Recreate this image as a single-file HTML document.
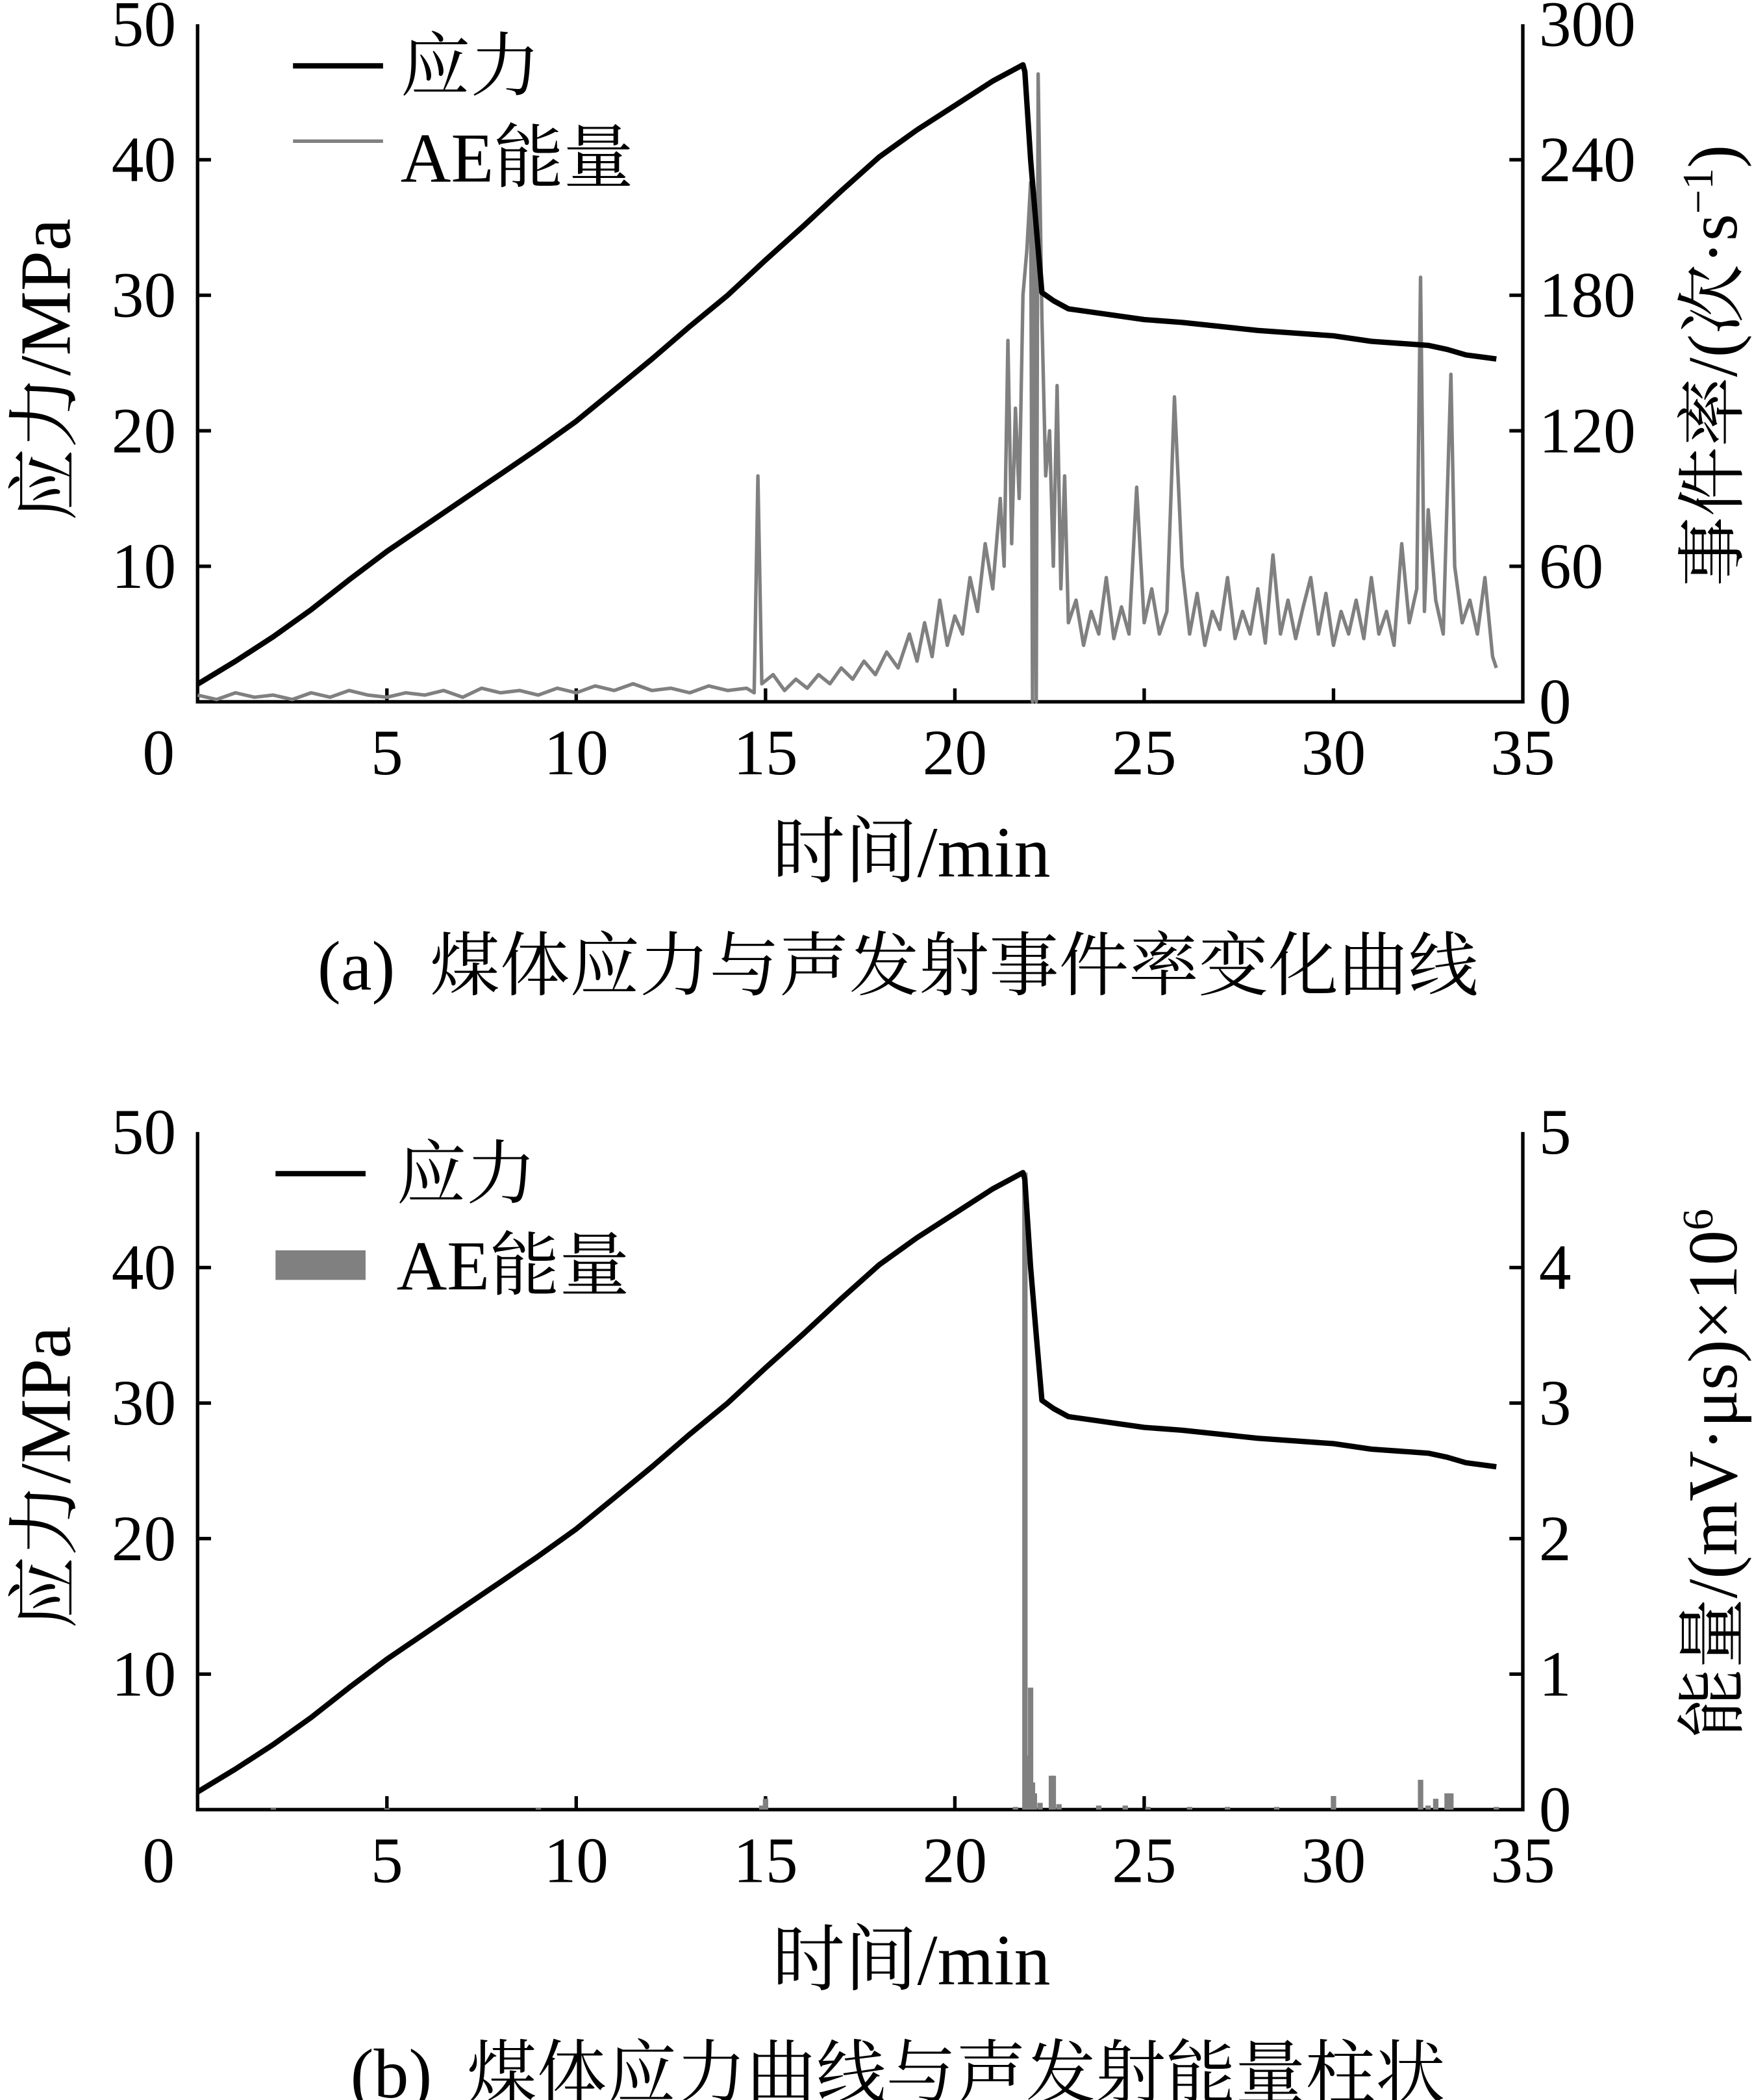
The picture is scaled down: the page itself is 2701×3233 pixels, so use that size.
<!DOCTYPE html>
<html><head><meta charset="utf-8"><style>
html,body{margin:0;padding:0;background:#fff;}
svg{display:block;}
text{font-family:"Liberation Serif","Noto Serif CJK SC",serif;fill:#000;}
</style></head><body>
<svg id="fig" width="2701" height="3233" viewBox="0 0 1305 1562" preserveAspectRatio="none" xmlns="http://www.w3.org/2000/svg"></svg>
<script>
// ---- data ----
const stressTimes = [0,1,2,3,4,5,6,7,8,9,10,11,12,13,14,15,16,17,18,19,20,21,21.8,21.85,22.0,22.15,22.3,22.6,23,24,25,26,27,28,29,30,31,32,32.5,33,33.5,34.3];
const stressValues = [1.3,3,4.8,6.8,9,11.1,13,14.9,16.8,18.7,20.7,23,25.3,27.7,30,32.6,35.1,37.7,40.2,42.2,44,45.8,47,46.5,40,35,30.2,29.6,29,28.6,28.2,28,27.7,27.4,27.2,27,26.6,26.4,26.3,26,25.6,25.3];
const rateTimes = [0,0.5,1,1.5,2,2.5,3,3.5,4,4.5,5,5.5,6,6.5,7,7.5,8,8.5,9,9.5,10,10.5,11,11.5,12,12.5,13,13.5,14,14.5,14.7,14.8,14.9,15.2,15.5,15.8,16.1,16.4,16.7,17,17.3,17.6,17.9,18.2,18.5,18.8,19.0,19.2,19.4,19.6,19.8,20,20.2,20.4,20.6,20.8,21,21.2,21.3,21.4,21.5,21.6,21.7,21.8,21.9,22.0,22.05,22.1,22.15,22.2,22.3,22.4,22.5,22.6,22.7,22.8,22.9,23,23.2,23.4,23.6,23.8,24,24.2,24.4,24.6,24.8,25,25.2,25.4,25.6,25.8,26,26.2,26.4,26.6,26.8,27,27.2,27.4,27.6,27.8,28,28.2,28.4,28.6,28.8,29,29.2,29.4,29.6,29.8,30,30.2,30.4,30.6,30.8,31,31.2,31.4,31.6,31.8,32,32.2,32.3,32.4,32.5,32.7,32.9,33.0,33.1,33.2,33.4,33.6,33.8,34,34.2,34.3];
const rateValues = [3,1,4,2,3,1,4,2,5,3,2,4,3,5,2,6,4,5,3,6,4,7,5,8,5,6,4,7,5,6,4,100,8,12,5,10,6,12,8,15,10,18,12,22,15,30,18,35,20,45,25,38,30,55,40,70,50,90,60,160,70,130,90,180,200,230,0,220,0,278,170,100,120,60,140,50,100,35,45,25,40,30,55,28,42,30,95,35,50,30,40,135,60,30,48,25,40,32,55,28,40,30,50,26,65,30,45,28,42,55,30,48,25,40,30,45,28,55,30,40,25,70,35,50,188,40,85,45,30,90,145,60,35,45,30,55,20,15];
const energyTimes = [2,5,9,14.9,15,21.6,21.85,21.95,22.0,22.05,22.1,22.25,22.55,22.6,22.75,23.8,24.5,25.1,26.2,27.2,28.5,30,32.3,32.5,32.7,33.0,33.1,34.3];
const energyValues = [0.01,0.01,0.01,0.03,0.08,0.02,4.7,0.4,0.9,0.2,0.12,0.05,0.25,0.25,0.04,0.03,0.03,0.02,0.02,0.02,0.02,0.1,0.22,0.03,0.08,0.12,0.12,0.02];
const xTicks = [0,5,10,15,20,25,30,35];
const stressTicks = [10,20,30,40,50];
const rateTicks = [0,60,120,180,240,300];
const energyTicks = [0,1,2,3,4,5];

const NS='http://www.w3.org/2000/svg';
const svg=document.getElementById('fig');
function el(tag,attrs,parent){const e=document.createElementNS(NS,tag);for(const k in attrs)e.setAttribute(k,attrs[k]);(parent||svg).appendChild(e);return e;}
const X0=147,X1=1133;
function sx(t){return X0+(X1-X0)*t/35;}

function panel(top,bot,id,rightMax,rightTicks,rightLabel,caption,legendGray){
  const g=el('g',{});
  
  
  const sy=v=>bot-(bot-top)*v/50;
  const ry=v=>bot-(bot-top)*v/rightMax;
  const frame=el('path',{d:`M${X0},${top} V${bot} H${X1} V${top}`,fill:'none',stroke:'#000','stroke-width':2.6},g);
  
  
  xTicks.forEach(t=>{
    if(t>0&&t<35){const tk=el('line',{x1:sx(t),x2:sx(t),y1:bot,y2:bot-10,stroke:'#000','stroke-width':2.6},g);
    
    }
    const lx=t===0?118:sx(t);
    const tx=el('text',{x:lx,y:bot+54,'font-size':48,'text-anchor':'middle'},g);tx.textContent=t;
    
    
  });
  stressTicks.forEach(v=>{
    if(v<50){const tk=el('line',{x1:X0,x2:X0+10,y1:sy(v),y2:sy(v),stroke:'#000','stroke-width':2.6},g);
    
    }
    const tx=el('text',{x:131,y:sy(v)+16,'font-size':48,'text-anchor':'end'},g);tx.textContent=v;
    
    
  });
  rightTicks.forEach(v=>{
    if(v>0&&v<rightMax){const tk=el('line',{x1:X1,x2:X1-10,y1:ry(v),y2:ry(v),stroke:'#000','stroke-width':2.6},g);
    
    }
    const tx=el('text',{x:1145,y:ry(v)+16,'font-size':48},g);tx.textContent=v;
    
    
  });
  if(!legendGray){
    const d=rateTimes.map((t,i)=>(i?'L':'M')+sx(t).toFixed(1)+','+ry(rateValues[i]).toFixed(1)).join(' ');
    const p=el('path',{d,fill:'none',stroke:'#808080','stroke-width':2.6,'stroke-linejoin':'round'},g);
    
    
  } else {
    energyTimes.forEach((t,i)=>{
      const b=el('rect',{x:sx(t)-2,y:ry(energyValues[i]),width:4,height:bot-ry(energyValues[i]),fill:'#808080'},g);
      
      
    });
  }
  const d2=stressTimes.map((t,i)=>(i?'L':'M')+sx(t).toFixed(1)+','+sy(stressValues[i]).toFixed(1)).join(' ');
  const sp=el('path',{d:d2,fill:'none',stroke:'#000','stroke-width':4,'stroke-linejoin':'round'},g);
  
  
  const lx=legendGray?205:218, lt=legendGray?295:298;
  const l1=el('line',{x1:lx,x2:lx+67,y1:top+31,y2:top+31,stroke:'#000','stroke-width':4},g);
  
  
  const t1=el('text',{x:lt,y:top+49,'font-size':52},g);t1.textContent='应力';
  
  
  let l2;
  if(legendGray){l2=el('rect',{x:lx,y:top+88,width:67,height:22,fill:'#808080'},g);}
  else{l2=el('line',{x1:lx,x2:lx+67,y1:top+87,y2:top+87,stroke:'#808080','stroke-width':2.6},g);}
  
  
  const t2=el('text',{x:lt,y:top+117,'font-size':52},g);t2.textContent='AE能量';
  
  
  const cy=(top+bot)/2+10;
  const yl=el('text',{x:0,y:0,'font-size':54,'text-anchor':'middle',transform:`translate(52,${cy-5}) rotate(-90)`},g);yl.textContent='应力/MPa';
  
  
  const rl=el('text',{x:0,y:0,'font-size':52,'text-anchor':'middle',transform:`translate(1292,${cy-8}) rotate(-90)`},g);rl.innerHTML=rightLabel;
  
  
  const xl=el('text',{x:678,y:bot+130,'font-size':54,'text-anchor':'middle'},g);xl.textContent='时间/min';
  
  
  const cap=el('text',{x:668,y:bot+214,'font-size':52,'text-anchor':'middle'},g);cap.textContent=caption;
  
  
}
panel(18,522,'panel-a-event-rate',300,rateTicks,'事件率/(次·s<tspan dy="-18" font-size="32">−1</tspan><tspan dy="18">)</tspan>','(a)\u00a0\u00a0煤体应力与声发射事件率变化曲线',false);
panel(842,1346,'panel-b-energy',5,energyTicks,'能量/(mV·μs)×10<tspan dy="-18" font-size="32">6</tspan>','(b)\u00a0\u00a0煤体应力曲线与声发射能量柱状',true);
</script>
</body></html>
